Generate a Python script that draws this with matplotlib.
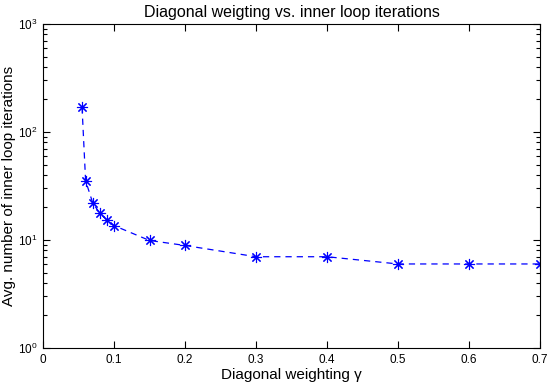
import matplotlib
matplotlib.use('Agg')
import matplotlib.pyplot as plt
from matplotlib.ticker import FixedLocator, LogLocator, NullFormatter

plt.rcParams['font.family'] = ['Liberation Sans', 'DejaVu Sans']
plt.rcParams['mathtext.fontset'] = 'custom'
plt.rcParams['mathtext.rm'] = 'Liberation Sans'
plt.rcParams['mathtext.it'] = 'Liberation Sans'

gamma = [0.055, 0.06, 0.07, 0.08, 0.09, 0.1, 0.15, 0.2, 0.3, 0.4, 0.5, 0.6, 0.7]
iterations = [169, 35.4, 22.1, 17.7, 15.3, 13.6, 9.9, 8.9, 7, 7, 6, 6, 6]
x_ticks = [0, 0.1, 0.2, 0.3, 0.4, 0.5, 0.6, 0.7]
x_tick_labels = ['0', '0.1', '0.2', '0.3', '0.4', '0.5', '0.6', '0.7']
y_ticks = [1, 10, 100, 1000]
y_tick_labels = ['$10^{0}$', '$10^{1}$', '$10^{2}$', '$10^{3}$']

fig = plt.figure(figsize=(5.48, 3.86), dpi=100)
ax = fig.add_axes([43 / 548, 38 / 386, 497 / 548, 324 / 386])

# matlab-style '*' marker: + and x drawn together
ax.semilogy(gamma, iterations, linestyle='--', color='#0000ff', marker=(8, 2, 0),
            markersize=8, markeredgewidth=0.8, linewidth=0.9, dashes=(5, 4))

ax.set_xlim(0, 0.7)
ax.set_ylim(1, 1000)
ax.xaxis.set_major_locator(FixedLocator(x_ticks))
ax.set_xticklabels(x_tick_labels)
ax.yaxis.set_major_locator(FixedLocator(y_ticks))
ax.set_yticklabels(y_tick_labels)
ax.yaxis.set_minor_locator(LogLocator(base=10, subs=range(2, 10)))
ax.yaxis.set_minor_formatter(NullFormatter())

ax.tick_params(which='both', direction='in', top=True, right=True, labelsize=8.5, pad=4)
ax.tick_params(which='major', length=5, width=0.8)
ax.tick_params(which='minor', length=3, width=0.8)
for s in ax.spines.values():
    s.set_linewidth(0.8)

ax.set_title('Diagonal weigting vs. inner loop iterations', fontsize=11.5, pad=5)
ax.set_xlabel('Diagonal weighting \u03b3', fontsize=11, labelpad=2)
ax.set_ylabel('Avg. number of inner loop iterations', fontsize=11, labelpad=1)

fig.savefig('out.png', dpi=100)
